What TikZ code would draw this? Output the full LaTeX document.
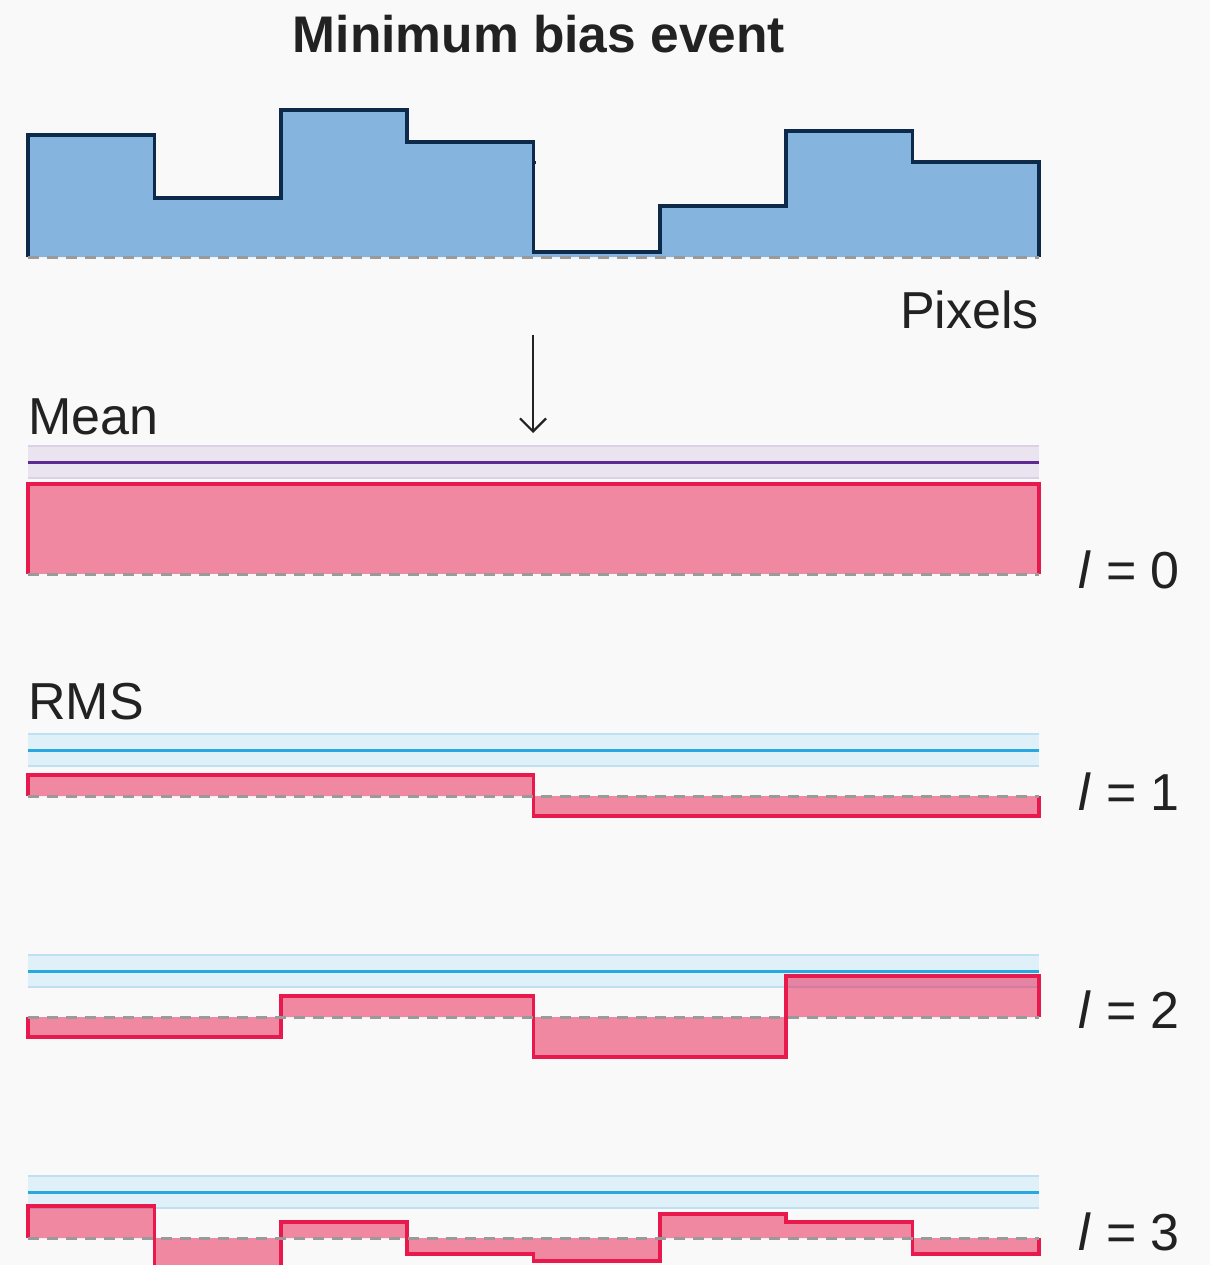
\documentclass[tikz,border=0pt]{standalone}
\usepackage{fontspec}
\setmainfont{Liberation Sans}
\usetikzlibrary{arrows.meta}
\definecolor{bg}{HTML}{F9F9F9}
\definecolor{histfill}{HTML}{85B5DE}
\definecolor{histline}{HTML}{0E2A4A}
\definecolor{redline}{HTML}{E8194D}
\definecolor{basegray}{HTML}{9A9A9A}
\definecolor{meanband}{HTML}{EAE4F0}
\definecolor{meanedge}{HTML}{DCD0E6}
\definecolor{meanline}{HTML}{5E2A91}
\definecolor{rmsband}{HTML}{E0F0F8}
\definecolor{rmsedge}{HTML}{BDE0F2}
\definecolor{rmsline}{HTML}{29A8E0}
\definecolor{txt}{HTML}{222222}
\newcommand{\myband}[4]{% fill, edge, line, center y
  \fill[#1] (28,#4-16) rectangle (1039,#4+16);
  \draw[#2, line width=1.5pt] (28,#4-16) -- (1039,#4-16) (28,#4+16) -- (1039,#4+16);
  \draw[#3, line width=3pt] (28,#4) -- (1039,#4);
}
\begin{document}
\begin{tikzpicture}[x=1pt,y=-1pt,
  lbl/.style={inner sep=0pt, text=txt, font=\fontsize{52}{60}\selectfont},
  baseln/.style={draw=basegray, line width=3pt, dash pattern=on 11pt off 8pt},
  histpath/.style={draw=histline, line width=3.2pt, line join=miter},
  redpath/.style={draw=redline, line width=3.2pt, line join=miter},
  redfill/.style={fill=redline, fill opacity=0.5, draw=none}]
\fill[bg] (0,0) rectangle (1210,1265);
\useasboundingbox (0,0) rectangle (1210,1265);

% title and labels
\node[lbl, anchor=base, font=\fontsize{51.5}{60}\selectfont\bfseries] (title) at (539,53) {Minimum bias event};
\node[lbl, anchor=base east] (pixels) at (1039,328) {Pixels};
\node[lbl, anchor=base west] (mean) at (28,434) {Mean};
\node[lbl, anchor=base west] (rms) at (28,719) {RMS};
\node[lbl, anchor=base west] (l0) at (1078,588) {{\itshape l}\hspace{2pt} = 0};
\node[lbl, anchor=base west] (l1) at (1078,810) {{\itshape l}\hspace{2pt} = 1};
\node[lbl, anchor=base west] (l2) at (1078,1028) {{\itshape l}\hspace{2pt} = 2};
\node[lbl, anchor=base west] (l3) at (1078,1250) {{\itshape l}\hspace{2pt} = 3};

% top histogram
\fill[histfill] (28,257) -- (28,135) -- (154.5,135) -- (154.5,198) -- (281,198) -- (281,110) -- (407,110) -- (407,142) -- (533.5,142) -- (533.5,252) -- (660,252) -- (660,206) -- (786,206) -- (786,131) -- (912.5,131) -- (912.5,162) -- (1039,162) -- (1039,257) -- cycle;
\draw[histpath] (28,257) -- (28,135) -- (154.5,135) -- (154.5,198) -- (281,198) -- (281,110) -- (407,110) -- (407,142) -- (533.5,142) -- (533.5,252) -- (660,252) -- (660,206) -- (786,206) -- (786,131) -- (912.5,131) -- (912.5,162) -- (1039,162) -- (1039,257);
\draw[histline, line width=3pt] (533.5,163) -- (536,163);
\draw[baseln] (28,257) -- (1039,257);

% arrow
\coordinate (arrowtop) at (533,335);
\coordinate (arrowtip) at (533,433);
\draw[txt, line width=2.2pt, -{Straight Barb[length=13pt,width=26pt,line width=2.2pt]}] (arrowtop) -- (arrowtip);

% mean row
\myband{meanband}{meanedge}{meanline}{462}
\fill[redfill] (28,574) -- (28,484) -- (1039,484) -- (1039,574) -- cycle;
\draw[redpath] (28,574) -- (28,484) -- (1039,484) -- (1039,574);
\draw[baseln] (28,574) -- (1039,574);

% l = 1
\myband{rmsband}{rmsedge}{rmsline}{750}
\fill[redfill] (28,796) -- (28,775) -- (533.5,775) -- (533.5,816) -- (1039,816) -- (1039,796) -- cycle;
\draw[redpath] (28,796) -- (28,775) -- (533.5,775) -- (533.5,816) -- (1039,816) -- (1039,796);
\draw[baseln] (28,796) -- (1039,796);

% l = 2
\myband{rmsband}{rmsedge}{rmsline}{971}
\fill[redfill] (28,1017) -- (28,1037) -- (281,1037) -- (281,996) -- (533.5,996) -- (533.5,1057) -- (786,1057) -- (786,976) -- (1039,976) -- (1039,1017) -- cycle;
\draw[redpath] (28,1017) -- (28,1037) -- (281,1037) -- (281,996) -- (533.5,996) -- (533.5,1057) -- (786,1057) -- (786,976) -- (1039,976) -- (1039,1017);
\draw[baseln] (28,1017) -- (1039,1017);

% l = 3
\myband{rmsband}{rmsedge}{rmsline}{1192}
\fill[redfill] (28,1238) -- (28,1206) -- (154.5,1206) -- (154.5,1274) -- (281,1274) -- (281,1222) -- (407,1222) -- (407,1254) -- (533.5,1254) -- (533.5,1261) -- (660,1261) -- (660,1214) -- (786,1214) -- (786,1222) -- (912.5,1222) -- (912.5,1254) -- (1039,1254) -- (1039,1238) -- cycle;
\draw[redpath] (28,1238) -- (28,1206) -- (154.5,1206) -- (154.5,1274) -- (281,1274) -- (281,1222) -- (407,1222) -- (407,1254) -- (533.5,1254) -- (533.5,1261) -- (660,1261) -- (660,1214) -- (786,1214) -- (786,1222) -- (912.5,1222) -- (912.5,1254) -- (1039,1254) -- (1039,1238);
\draw[baseln] (28,1238) -- (1039,1238);
\end{tikzpicture}
\end{document}
